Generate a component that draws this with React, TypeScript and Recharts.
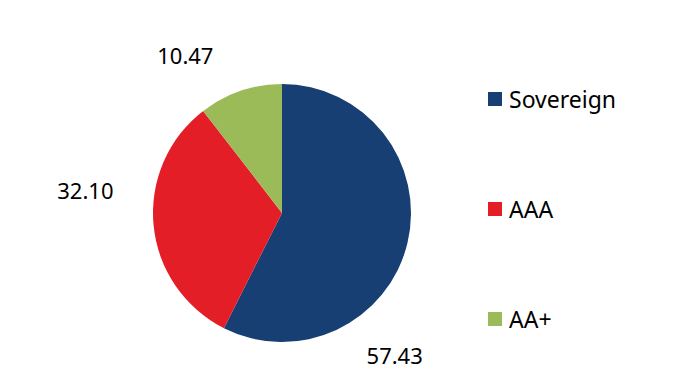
import React from "react";
import { PieChart, Pie, Cell } from "recharts";

const categories = ["Sovereign", "AAA", "AA+"];
const values = [57.43, 32.1, 10.47];
const labels = ["57.43", "32.10", "10.47"];
const colors = ["#173f73", "#e31e26", "#9bbb59"];

const data = categories.map((name, i) => ({ name, value: values[i], label: labels[i] }));

// label placement (polar, degrees, distance from centre) – styling only
const labelPolar = [
  { angle: -51.5, dist: 181 },
  { angle: 173.3, dist: 198 },
  { angle: 121.5, dist: 185 },
];

const FONT = "'Noto Sans', sans-serif";

const renderLabel = (props: any) => {
  const { cx, cy, index } = props;
  const p = labelPolar[index];
  const rad = (p.angle * Math.PI) / 180;
  const x = cx + Math.cos(rad) * p.dist;
  const y = cy - Math.sin(rad) * p.dist;
  return (
    <text x={x} y={y} textAnchor="middle" dominantBaseline="central" fontSize={22} fill="#000" fontFamily={FONT}>
      {data[index].label}
    </text>
  );
};

export default function App() {
  return (
    <div style={{ width: 678, height: 381, position: "absolute", left: 0, top: 0, background: "#fff" }}>
      <PieChart width={678} height={381} margin={{ top: 0, right: 0, bottom: 0, left: 0 }}>
        <Pie
          data={data}
          dataKey="value"
          cx={282}
          cy={213}
          outerRadius={129}
          startAngle={90}
          endAngle={-270}
          stroke="none"
          label={renderLabel}
          labelLine={false}
          isAnimationActive={false}
        >
          {data.map((d, i) => (
            <Cell key={d.name} fill={colors[i]} />
          ))}
        </Pie>
      </PieChart>
      <div style={{ position: "absolute", left: 488, top: 44, width: 180, fontFamily: FONT }}>
        {data.map((d, i) => (
          <div key={d.name} style={{ display: "flex", alignItems: "center", height: 110 }}>
            <div style={{ width: 14, height: 14, background: colors[i], marginRight: 7 }} />
            <span style={{ fontSize: 23, color: "#000", lineHeight: "26px" }}>{d.name}</span>
          </div>
        ))}
      </div>
    </div>
  );
}
